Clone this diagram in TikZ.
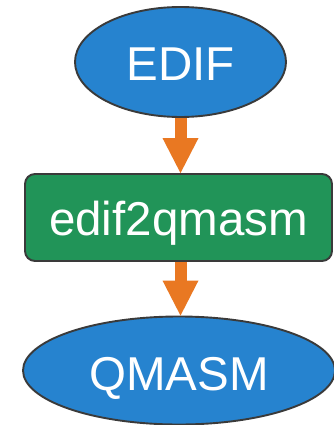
\documentclass[tikz,border=0pt]{standalone}
\usepackage{fontspec}
\setmainfont{Liberation Sans}
\usetikzlibrary{shapes.geometric,arrows.meta}
\definecolor{fileblue}{RGB}{38,131,207}
\definecolor{toolgreen}{RGB}{33,148,88}
\definecolor{flow}{RGB}{233,120,34}
\definecolor{edgegray}{RGB}{58,58,58}
\begin{document}
\begin{tikzpicture}[x=1pt,y=-1pt,
  stage/.style={font=\fontsize{47.5}{54}\selectfont, text=white, draw=edgegray,
                line width=1.9pt, inner sep=0pt, text depth=0pt},
  fileshape/.style={stage, ellipse, fill=fileblue},
  toolbox/.style={stage, rectangle, rounded corners=10pt, fill=toolgreen},
  flowarrow/.style={draw=flow, line width=12pt,
                    -{Triangle[length=35pt,width=36pt,line width=0pt]}}]
\useasboundingbox (0,0) rectangle (333,425);
\fill[white] (0,0) rectangle (333,425);
% input file
\node[fileshape, minimum width=211pt, minimum height=110pt, text height=38pt]
  (edif) at (180.5,62) {EDIF};
% conversion tool
\node[toolbox, minimum width=307pt, minimum height=87pt, text height=35pt]
  (tool) at (178.5,217.5) {edif2qmasm};
% output file
\node[fileshape, minimum width=312pt, minimum height=108pt, text height=39pt]
  (qmasm) at (179,370.5) {QMASM};
% flow arrows
\draw[flowarrow] (edif.south) -- (edif.south |- tool.north);
\draw[flowarrow] (edif.south |- tool.south) -- (edif.south |- qmasm.north);
\end{tikzpicture}
\end{document}
